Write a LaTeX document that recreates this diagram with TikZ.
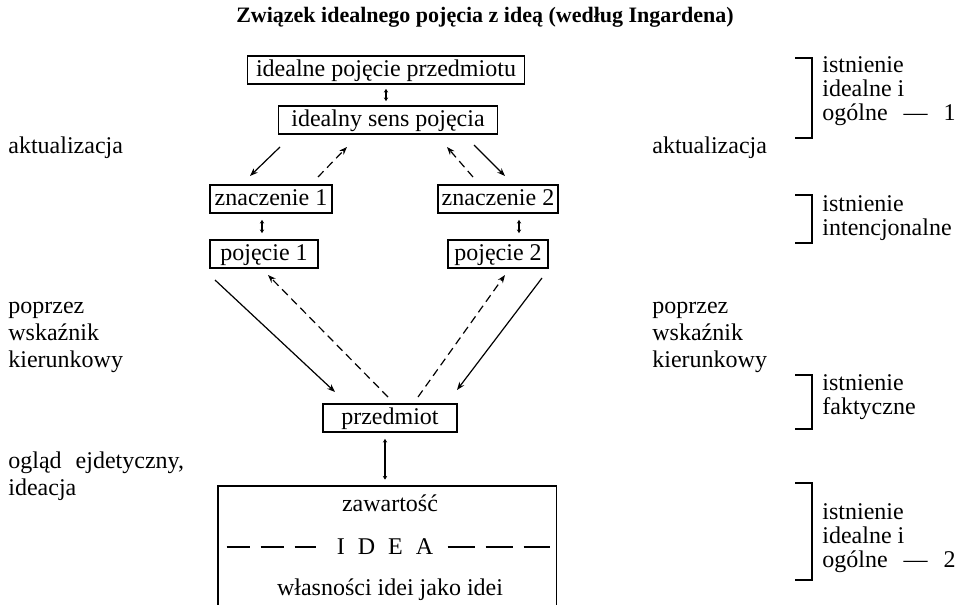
\documentclass[tikz,border=0pt]{standalone}
\usepackage{fontspec}
\setmainfont{Liberation Serif}
\usetikzlibrary{arrows.meta}
\begin{document}
\begin{tikzpicture}[x=0.5pt,y=-0.5pt,
    box/.style={draw,line width=0.9pt,inner xsep=2pt,inner ysep=0pt,minimum height=14pt,
        text height=8.5pt,text depth=2.5pt,font=\fontsize{12}{13}\selectfont},
    lbl/.style={anchor=west,align=left,inner sep=0pt,font=\fontsize{12}{13.5}\selectfont},
    rlbl/.style={anchor=west,align=left,inner sep=0pt,font=\fontsize{12}{12}\selectfont},
    txt/.style={inner sep=0pt,font=\fontsize{12}{13}\selectfont},
    pfeil/.style={-{Stealth[length=4pt,width=3pt]},line width=0.6pt},
    dbl/.style={{Stealth[length=1.8pt,width=2.2pt]}-{Stealth[length=1.8pt,width=2.2pt]},line width=0.6pt},
    klammer/.style={line width=0.9pt}]
    \tikzstyle{strich}=[dash pattern=on 4pt off 2.5pt]
    \useasboundingbox (0,0) rectangle (970,605);
    % title
    \node[font=\bfseries\fontsize{11}{12}\selectfont] (titel) at (485,17) {Związek idealnego pojęcia z ideą (według Ingardena)};
    % boxes
    \node[box,minimum width=138.5pt] (ideal) at (386,70) {idealne pojęcie przedmiotu};
    \node[box,minimum width=109.5pt] (sens) at (388,120) {idealny sens pojęcia};
    \node[box,minimum width=61pt] (zn1) at (271,199) {znaczenie 1};
    \node[box,minimum width=55pt] (zn2) at (498,199) {znaczenie 2};
    \node[box,minimum width=54pt] (pj1) at (264,254) {pojęcie 1};
    \node[box,minimum width=50pt] (pj2) at (498,254) {pojęcie 2};
    \node[box,minimum width=67pt] (przed) at (390,418) {przedmiot};
    % idea box (cut off at the bottom)
    \node[minimum width=169pt,minimum height=59.5pt,inner sep=0pt] (idea) at (387,545.5) {};
    \draw[line width=0.9pt] (idea.south west) |- (idea.north east) -- (idea.south east);
    \node[txt] (zaw) at (390,503) {zawartość};
    \node[txt] (ideatxt) at (385,547) {I\hspace{6.5pt}D\hspace{6.5pt}E\hspace{6.5pt}A};
    \node[txt] (wlasn) at (390,590) {własności idei jako idei};
    \draw[line width=0.6pt,dash pattern=on 11.5pt off 5.5pt] ([xshift=4.5pt]idea.west |- ideatxt.west) -- ([xshift=-10pt]ideatxt.west);
    \draw[line width=0.6pt,dash pattern=on 13.5pt off 5.5pt] ([xshift=7pt]ideatxt.east) -- ([xshift=-3pt]idea.east |- ideatxt.east);
    % double arrows
    \draw[dbl] ([yshift=-2pt]ideal.south) -- ([yshift=2pt]ideal.south |- sens.north);
    \draw[dbl] ([xshift=-4.5pt,yshift=-3pt]zn1.south) -- ([xshift=-4.5pt,yshift=3pt]zn1.south |- pj1.north);
    \draw[dbl] ([xshift=10.5pt,yshift=-3pt]zn2.south) -- ([xshift=10.5pt,yshift=3pt]zn2.south |- pj2.north);
    \draw[dbl] ([xshift=-2.5pt,yshift=-3pt]przed.south) -- ([xshift=-2.5pt,yshift=3pt]przed.south |- idea.north);
    % aktualizacja arrows
    \coordinate (a1) at (280,147); \coordinate (a2) at (250,176);
    \coordinate (a3) at (318,177); \coordinate (a4) at (347,147);
    \coordinate (a5) at (473,177); \coordinate (a6) at (447,147);
    \coordinate (a7) at (474,145); \coordinate (a8) at (505,176);
    \draw[pfeil] (a1) -- (a2);
    \draw[pfeil,strich] (a3) -- (a4);
    \draw[pfeil,strich] (a5) -- (a6);
    \draw[pfeil] (a7) -- (a8);
    % wskaznik arrows
    \coordinate (b1) at (215,280); \coordinate (b2) at (335,392);
    \coordinate (b3) at (388,397); \coordinate (b4) at (268,275);
    \coordinate (b5) at (418,397); \coordinate (b6) at (505,275);
    \coordinate (b7) at (542,278); \coordinate (b8) at (457,390);
    \draw[pfeil] (b1) -- (b2);
    \draw[pfeil,strich] (b3) -- (b4);
    \draw[pfeil,strich] (b5) -- (b6);
    \draw[pfeil] (b7) -- (b8);
    % left and middle labels
    \node[lbl] (akt1) at (8,148) {aktualizacja};
    \node[lbl] (akt2) at (652,148) {aktualizacja};
    \node[lbl] (wsk1) at (8,337) {poprzez\\wskaźnik\\kierunkowy};
    \node[lbl] (wsk2) at (652,337) {poprzez\\wskaźnik\\kierunkowy};
    \node[lbl] (oglad) at (8,476) {ogląd\hspace{7pt}ejdetyczny,\\ideacja};
    % brackets
    \draw[klammer] (795,58) -| (812,138) -- (795,138);
    \draw[klammer] (795,195) -| (812,243) -- (795,243);
    \draw[klammer] (795,375) -| (812,429) -- (795,429);
    \draw[klammer] (795,483) -| (812,580) -- (795,580);
    \node[rlbl] (ex1) at (822,91) {istnienie\\idealne i\\ogólne\hspace{8pt}—\hspace{8pt}1};
    \node[rlbl] (ex2) at (822,218) {istnienie\\intencjonalne};
    \node[rlbl] (ex3) at (822,397) {istnienie\\faktyczne};
    \node[rlbl] (ex4) at (822,538) {istnienie\\idealne i\\ogólne\hspace{8pt}—\hspace{8pt}2};
\end{tikzpicture}
\end{document}
